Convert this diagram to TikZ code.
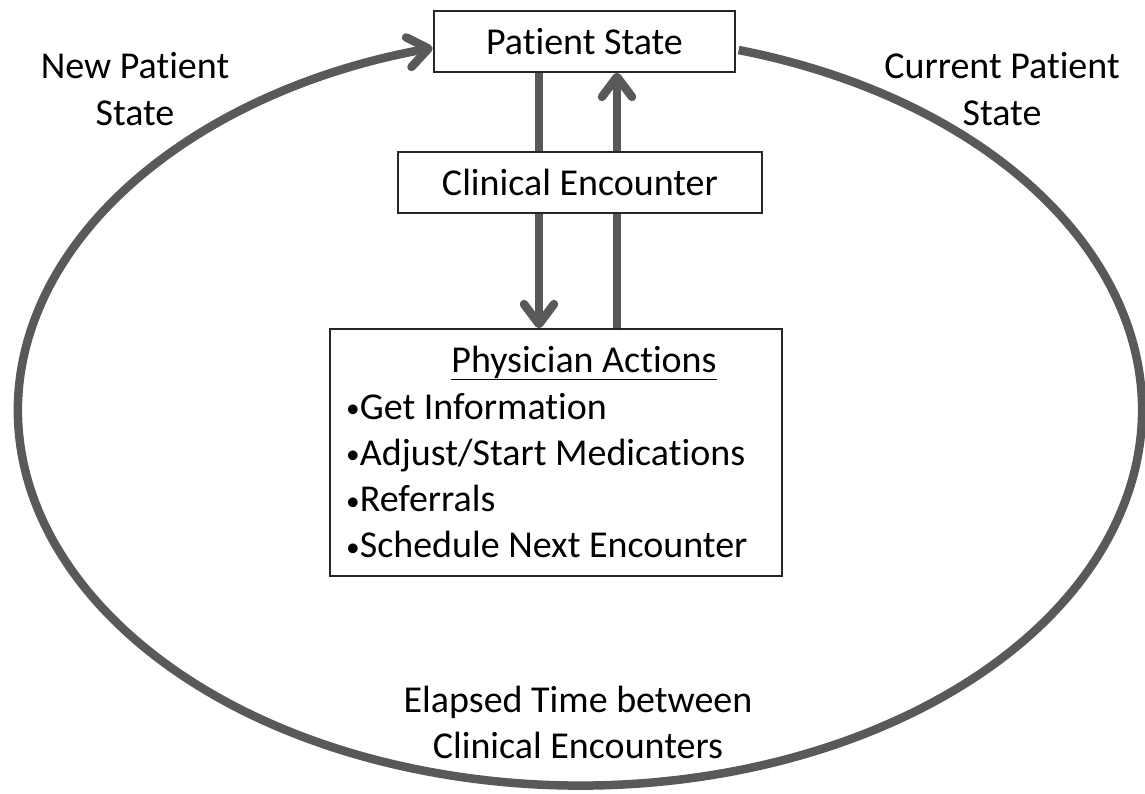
\documentclass[tikz,border=0pt]{standalone}
\usepackage{fontspec}
\setmainfont{Carlito}[RawFeature={-liga;-clig;-calt;-dlig}]
\usetikzlibrary{arrows.meta}
\definecolor{loopgray}{HTML}{595959}
\newcommand{\itembullet}{\raisebox{1.5pt}{\scalebox{0.72}{•}}}
\begin{document}
\begin{tikzpicture}[x=1pt,y=-1pt,
  every node/.style={font=\fontsize{38}{47}\selectfont, text=black},
  stagebox/.style={draw=black!85, line width=1.3pt, fill=white, inner sep=0pt},
  flow/.style={draw=loopgray, line width=8.5pt,
    -{Straight Barb[round,length=20pt,width=30pt]},
    preaction={draw=black, draw opacity=0.12, transform canvas={shift={(2,2.5)}}}},
  plain/.style={inner sep=0pt, align=center}
]
\useasboundingbox (0,0) rectangle (1145,793);

% the three boxes of the encounter
\node[stagebox, minimum width=301pt, minimum height=61pt] (ps) at (584.5,41.5) {Patient State};
\node[stagebox, minimum width=452pt, minimum height=247pt] (actbox) at (556,452.5) {};
\node[inner sep=0pt, anchor=base] (acthead) at (584,372) {\underline{Physician Actions}};
\node[inner sep=0pt, anchor=west, align=left, font=\fontsize{38}{46.3}\selectfont] (actlist) at (346,479.2)
  {\strut\itembullet Get Information\\\strut\itembullet Adjust/Start Medications\\
   \strut\itembullet Referrals\\\strut\itembullet Schedule Next Encounter};

% down and up arrows between patient state and physician actions
\draw[flow] ([xshift=-45.5pt]ps.south) -- ([xshift=-45.5pt]ps.south |- actbox.north);
\draw[flow] ([xshift=32.5pt]ps.south |- actbox.north) -- ([xshift=32.5pt]ps.south);

\node[stagebox, minimum width=364pt, minimum height=61pt] (ce) at (580,182.5) {Clinical Encounter};

% the elapsed-time loop back to the patient state
\draw[flow] ([shift={(3,8.5)}]ps.east)
  arc[start angle=-73.6, end angle=254.8, x radius=562, y radius=375.4];

% labels around the loop
\node[plain] (newlbl) at (135,92.1) {\strut New Patient\\\strut State};
\node[plain] (curlbl) at (1002,92.1) {\strut Current Patient\\\strut State};
\node[plain, font=\fontsize{38}{46}\selectfont] (elapsed) at (578,725.8)
  {\strut Elapsed Time between\\\strut Clinical Encounters};
\end{tikzpicture}
\end{document}
